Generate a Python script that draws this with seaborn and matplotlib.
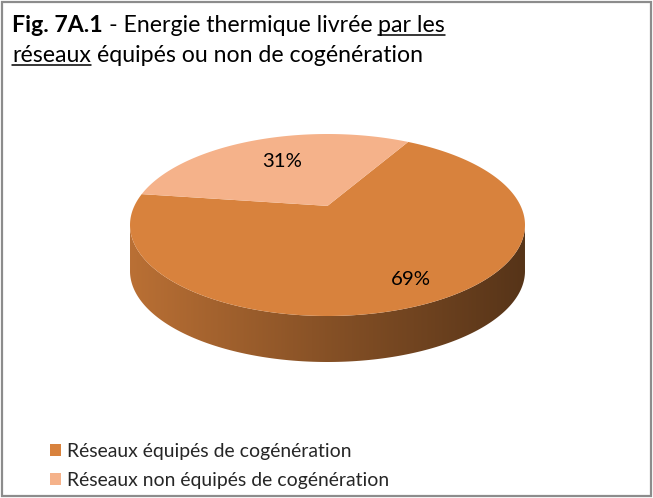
import numpy as np
import matplotlib
matplotlib.use("Agg")
import matplotlib.pyplot as plt
import matplotlib.transforms as mtransforms
from matplotlib.patches import Polygon, Rectangle
from matplotlib.lines import Line2D
from matplotlib.font_manager import FontProperties
from matplotlib.colors import LinearSegmentedColormap, to_rgb
import seaborn as sns

# ---------------- data ----------------
categories = ["Réseaux équipés de cogénération", "Réseaux non équipés de cogénération"]
shares = [69, 31]
pct_labels = ["69%", "31%"]
colors = ["#D8823D", "#F5B28A"]
title_line1 = [("Fig. 7A.1", "bold", False), ("- Energie thermique livrée", "normal", False), ("par les", "normal", True)]
title_line2 = [("réseaux", "normal", True), ("équipés ou non de cogénération", "normal", False)]

# ---------------- style ----------------
sns.set_theme(style="white")
FAMILY = ["Lato", "DejaVu Sans"]
plt.rcParams["font.family"] = FAMILY
palette = sns.color_palette(colors)

W, H = 653, 498
fig = plt.figure(figsize=(W / 100, H / 100), dpi=100)
fig.patch.set_facecolor("white")
renderer = fig.canvas.get_renderer()


def px_w(s, size, weight="normal"):
    fp = FontProperties(family=FAMILY, size=size, weight=weight)
    w, h, d = renderer.get_text_width_height_descent(s, fp, ismath=False)
    return w


def space_w(size, weight="normal"):
    return px_w("a a", size, weight) - px_w("aa", size, weight)


def runs_width(runs, size):
    total = 0
    for i, (s, wt, ul) in enumerate(runs):
        total += px_w(s, size, wt)
        if i < len(runs) - 1:
            total += space_w(size)
    return total


def fit(width_fn, target):
    s = 20.0
    for _ in range(3):
        s = s * target / width_fn(s)
    return s


def draw_runs(runs, x, y, size):
    for i, (s, wt, ul) in enumerate(runs):
        fig.text(x / W, 1 - y / H, s, fontsize=size, fontweight=wt, color="black",
                 ha="left", va="baseline")
        w = px_w(s, size, wt)
        if ul:
            fig.add_artist(Line2D([x / W, (x + w) / W], [1 - (y + 3) / H] * 2,
                                  transform=fig.transFigure, color="black", lw=1.1))
        x += w + space_w(size)


# ---------------- title ----------------
tsize = fit(lambda s: runs_width(title_line1, s), 433)
draw_runs(title_line1, 12, 32, tsize)
draw_runs(title_line2, 12, 62, tsize)

# ---------------- pie (3D look with perspective tilt) ----------------
cx, cy, rx, ry = 327.5, 225.0, 197.5, 91.0
depth = 46.0 / ry
K = 0.21                      # perspective factor (pie centre appears above ellipse centre)
C = np.sqrt(1 - K ** 2)


def project(u, v):
    den = 1 + K * v
    return C * u / den, (v + K) / den


ax_l, ax_r, ax_t, ax_b = 100, 555, 120, 385
ax = fig.add_axes([ax_l / W, 1 - ax_b / H, (ax_r - ax_l) / W, (ax_b - ax_t) / H])
wedges, _ = ax.pie(shares, colors=palette, startangle=172, counterclock=True,
                   wedgeprops=dict(linewidth=0, edgecolor="none"), radius=1)
ax.set_aspect("auto")
ax.set_xlim((ax_l - cx) / rx, (ax_r - cx) / rx)
ax.set_ylim((cy - ax_b) / ry, (cy - ax_t) / ry)
ax.axis("off")

handles = []
for wdg, col in zip(wedges, palette):
    t1, t2 = wdg.theta1, wdg.theta2
    wdg.remove()
    t = np.radians(np.linspace(t1, t2, 300))
    X, Y = project(np.cos(t), np.sin(t))
    X0, Y0 = project(0.0, 0.0)
    top_face = Polygon(np.vstack([[X0, Y0], np.column_stack([X, Y])]), closed=True,
                       facecolor=col, edgecolor="none", lw=0, zorder=2)
    ax.add_patch(top_face)
    handles.append(top_face)

    # side (front half of the outline in screen space)
    front = Y <= 0
    if front.sum() > 1:
        xs = X[front]
        order = np.argsort(xs)
        xs = xs[order]
        ys = Y[front][order]
        poly = Polygon(np.vstack([np.column_stack([xs, ys]),
                                  np.column_stack([xs, ys - depth])[::-1]]),
                       closed=True, facecolor="none", edgecolor="none",
                       transform=ax.transData)
        ax.add_patch(poly)
        base = np.array(to_rgb(col))
        cmap = LinearSegmentedColormap.from_list(
            "side", [base * 0.86, base * 0.62, base * 0.40])
        grad = np.linspace(0, 1, 256)[None, :]
        im = ax.imshow(grad, cmap=cmap, extent=[-1, 1, -1 - depth, 0], aspect="auto",
                       zorder=0.5, interpolation="bicubic")
        im.set_clip_path(poly)

psize = fit(lambda s: px_w("69%", s), 40)
off = mtransforms.offset_copy(ax.transData, fig=fig, x=10, y=-6, units="dots")
for wdg, lab in zip(wedges, pct_labels):
    mid = np.radians((wdg.theta1 + wdg.theta2) / 2)
    lx, ly = project(0.74 * np.cos(mid), 0.74 * np.sin(mid))
    ax.text(lx, ly, lab, transform=off, ha="center", va="center",
            fontsize=psize, color="black", zorder=5)

# ---------------- legend ----------------
lsize = fit(lambda s: px_w(categories[1], s), 322)
fig.legend(handles, categories, loc="upper left", bbox_to_anchor=(50 / W, 1 - 443 / H),
           bbox_transform=fig.transFigure, frameon=False, fontsize=lsize,
           handlelength=0.55, handleheight=0.55, handletextpad=0.35,
           labelspacing=0.62, borderpad=0, borderaxespad=0)

# ---------------- frame ----------------
fig.add_artist(Rectangle((2 / W, 2 / H), (W - 4) / W, (H - 4) / H, transform=fig.transFigure,
                         fill=False, edgecolor="#8c8c8c", lw=1.6))

fig.savefig("out.png", dpi=100, facecolor="white")
